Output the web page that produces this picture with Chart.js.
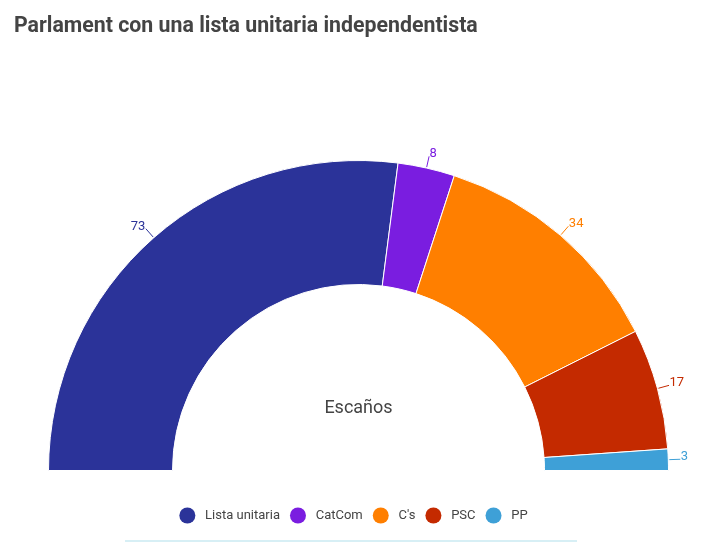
<!DOCTYPE html>
<html><head><meta charset="utf-8">
<script src="https://cdn.jsdelivr.net/npm/chart.js@4/dist/chart.umd.min.js"></script>
<style>
html,body{margin:0;padding:0;background:#fff;width:726px;height:543px;overflow:hidden;font-family:Roboto,sans-serif}
#title{position:absolute;left:14px;top:12px;font:bold 21.3px Roboto,sans-serif;color:#444;white-space:nowrap}
#wrap{position:absolute;left:0;top:0;width:726px;height:543px}
#rule{position:absolute;left:125px;top:540px;width:452px;height:2px;background:#d7eff5}
</style></head><body>
<div id="wrap"><canvas id="c"></canvas></div>
<div id="title">Parlament con una lista unitaria independentista</div>
<div id="rule"></div>
<script>
const categories = ['Lista unitaria', 'CatCom', "C's", 'PSC', 'PP'];
const seats = [73, 8, 34, 17, 3];
const colors = ['#2b3399', '#7a1de0', '#ff7f00', '#c42a00', '#3ea0d7'];
const centerLabel = 'Escaños';

const labelPlugin = {
  id: 'labels',
  afterLayout(chart) {
    if (chart.legend) { chart.legend.left -= 5; chart.legend.right -= 5; }
  },
  afterDatasetsDraw(chart) {
    const ctx = chart.ctx;
    const meta = chart.getDatasetMeta(0);
    ctx.save();
    let cx = 0, cy = 0;
    meta.data.forEach((arc, i) => {
      const p = arc.getProps(['x', 'y', 'startAngle', 'endAngle', 'outerRadius'], true);
      cx = p.x; cy = p.y;
      const mid = (p.startAngle + p.endAngle) / 2;
      const dx = Math.cos(mid), dy = Math.sin(mid);
      const r1 = p.outerRadius + 1, r2 = p.outerRadius + 12;
      const x1 = p.x + dx * r1, y1 = p.y + dy * r1;
      const x2 = p.x + dx * r2, y2 = p.y + dy * r2;
      ctx.strokeStyle = colors[i];
      ctx.lineWidth = 1;
      ctx.beginPath(); ctx.moveTo(x1, y1); ctx.lineTo(x2, y2); ctx.stroke();
      ctx.fillStyle = colors[i];
      ctx.font = '13px Roboto, sans-serif';
      ctx.textBaseline = 'alphabetic';
      ctx.textAlign = dx >= 0 ? 'left' : 'right';
      ctx.fillText(String(seats[i]), x2 + (dx >= 0 ? 0.5 : -0.5), y2 + 1);
    });
    ctx.fillStyle = '#444';
    ctx.font = '18px Roboto, sans-serif';
    ctx.textAlign = 'center';
    ctx.textBaseline = 'middle';
    ctx.fillText(centerLabel, cx, cy - 62);
    ctx.restore();
  }
};

new Chart(document.getElementById('c'), {
  type: 'doughnut',
  data: {
    labels: categories,
    datasets: [{
      data: seats,
      backgroundColor: colors,
      borderColor: '#ffffff',
      borderWidth: 1,
      hoverOffset: 0
    }]
  },
  options: {
    responsive: true,
    maintainAspectRatio: false,
    animation: false,
    rotation: -90,
    circumference: 180,
    cutout: '60%',
    layout: { padding: { left: 48, right: 57, top: 132, bottom: 11 } },
    plugins: {
      tooltip: { enabled: false },
      legend: {
        position: 'bottom',
        labels: {
          usePointStyle: true,
          pointStyle: 'circle',
          boxHeight: 11.3,
          pointStyleWidth: 16,
          padding: 10,
          color: '#444',
          font: { family: 'Roboto, sans-serif', size: 13 },
          generateLabels(chart) {
            const items = Chart.overrides.doughnut.plugins.legend.labels.generateLabels(chart);
            return items.map(it => Object.assign(it, { text: ' ' + it.text, lineWidth: 0 }));
          }
        }
      }
    }
  },
  plugins: [labelPlugin]
});
</script>
</body></html>
